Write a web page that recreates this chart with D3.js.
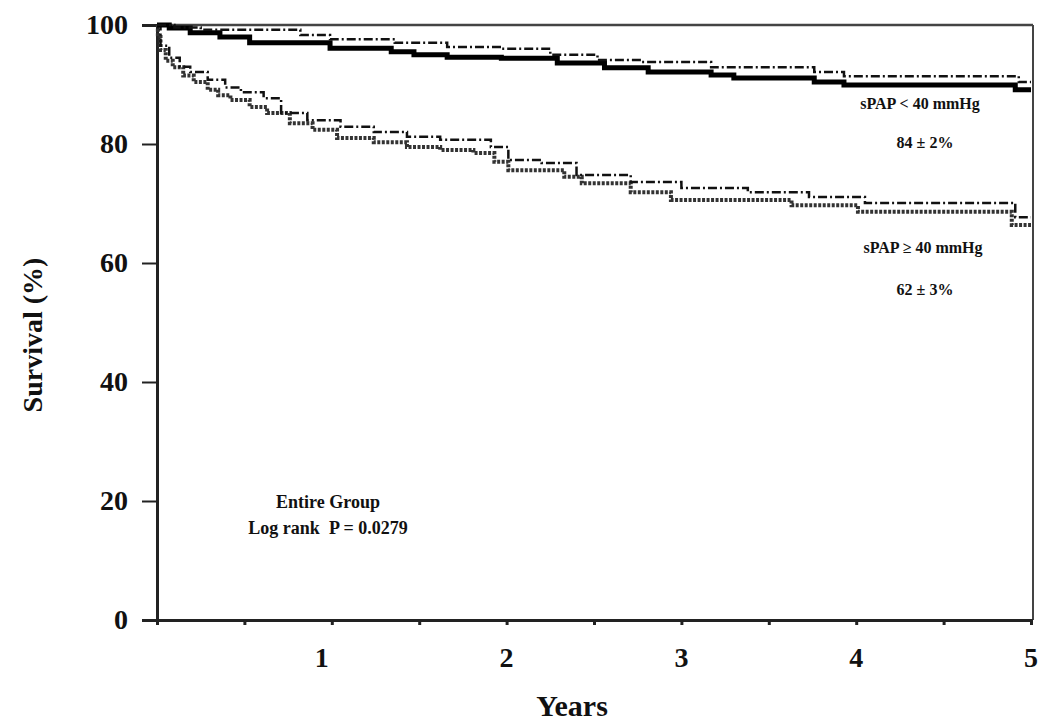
<!DOCTYPE html>
<html>
<head>
<meta charset="utf-8">
<script src="https://cdn.jsdelivr.net/npm/d3@7"></script>
<style>
  body { margin: 0; background: #fff; }
  svg text { font-family: "Liberation Serif", "Times New Roman", serif; font-weight: bold; fill: #111; }
</style>
</head>
<body>
<div id="chart"></div>
<script>
// KAPLAN-MEIER STEPS (years, survival %)
const lowTime = [0, 0.07, 0.19, 0.36, 0.53, 0.99, 1.34, 1.47, 1.66, 1.97, 2.29, 2.56, 2.81, 3.17, 3.30, 3.76, 3.93, 4.91, 5];
const lowSurv = [100, 99.5, 98.7, 98.0, 97.0, 96.1, 95.5, 95.0, 94.6, 94.4, 93.6, 92.8, 92.1, 91.6, 91.1, 90.4, 89.9, 89.1, 89.1];

const lowAltTime = [0, 0.10, 0.25, 0.82, 0.99, 1.36, 1.66, 1.97, 2.25, 2.52, 2.77, 3.17, 3.76, 3.93, 4.93, 5];
const lowAltSurv = [100, 99.6, 99.2, 98.3, 97.6, 97.0, 96.3, 96.0, 95.0, 94.1, 93.8, 92.9, 92.1, 91.4, 90.4, 90.4];

const highTime = [0, 0.005, 0.02, 0.05, 0.09, 0.15, 0.21, 0.29, 0.35, 0.42, 0.53, 0.63, 0.76, 0.89, 1.03, 1.24, 1.43, 1.62, 1.81, 1.93, 2.01, 2.33, 2.43, 2.71, 2.94, 3.63, 4.01, 4.89, 5];
const highSurv = [100, 98, 95.8, 94.0, 92.9, 91.5, 90.4, 89.1, 88.2, 87.4, 86.2, 85.2, 83.5, 82.4, 81.0, 80.3, 79.5, 79.0, 78.5, 77.0, 75.6, 74.5, 73.4, 71.9, 70.6, 69.7, 68.6, 66.4, 66.4];

const highAltTime = [0, 0.02, 0.07, 0.13, 0.19, 0.29, 0.39, 0.48, 0.61, 0.71, 0.86, 1.05, 1.24, 1.43, 1.62, 1.91, 2.01, 2.20, 2.40, 2.71, 3.00, 3.38, 3.73, 4.05, 4.91, 5];
const highAltSurv = [100, 96.5, 94.5, 93.0, 92.1, 90.8, 89.5, 88.7, 87.7, 85.2, 84.0, 82.9, 82.0, 81.2, 80.7, 79.5, 77.3, 76.8, 74.8, 73.6, 72.6, 71.9, 71.1, 70.1, 67.7, 67.7];

// AXIS TICKS
const xTicks = [0, 0.5, 1, 1.5, 2, 2.5, 3, 3.5, 4, 4.5, 5];
const xTickLabels = [1, 2, 3, 4, 5];
const yTicks = [0, 20, 40, 60, 80, 100];

// SVG SIZE
const w = 1038;
const h = 721;
const padL = 157, padR = 1031, padT = 25, padB = 620;

const svg = d3.select("#chart").append("svg").attr("width", w).attr("height", h);

const x = d3.scaleLinear().domain([0, 5]).range([padL, padR]);
const y = d3.scaleLinear().domain([0, 100]).range([padB, padT]);

// FRAME (top + right)
svg.append("line").attr("x1", padL).attr("x2", padR + 2).attr("y1", padT).attr("y2", padT)
  .attr("stroke", "#444").attr("stroke-width", 2.5);
svg.append("line").attr("x1", padR + 2).attr("x2", padR + 2).attr("y1", padT).attr("y2", padB)
  .attr("stroke", "#444").attr("stroke-width", 2);

// AXES
const xAxis = d3.axisBottom(x).tickValues(xTicks).tickSize(5).tickFormat("");
const gx = svg.append("g").attr("transform", "translate(0," + padB + ")").call(xAxis);
gx.select(".domain").attr("stroke", "#222").attr("stroke-width", 3);
gx.selectAll(".tick line").attr("stroke", "#222").attr("stroke-width", 3);

svg.selectAll(".xlab").data(xTickLabels).enter().append("text")
  .attr("class", "xlab")
  .attr("x", (d) => x(d) - (d === 1 ? 10 : 0))
  .attr("y", 667)
  .attr("text-anchor", "middle")
  .style("font-size", "28px")
  .text((d) => d);

const yAxis = d3.axisLeft(y).tickValues(yTicks).tickSize(15).tickPadding(14);
const gy = svg.append("g").attr("transform", "translate(" + padL + ",0)").call(yAxis);
gy.select(".domain").attr("stroke", "#222").attr("stroke-width", 3);
gy.selectAll(".tick line").attr("stroke", "#222").attr("stroke-width", 2);
gy.selectAll(".tick text")
  .style("font-size", "28px")
  .style("font-family", '"Liberation Serif", "Times New Roman", serif')
  .style("font-weight", "bold")
  .attr("fill", "#111");

// AXIS TITLES
svg.append("text").attr("transform", "translate(42,335) rotate(-90)")
  .attr("text-anchor", "middle").style("font-size", "28px").text("Survival (%)");
svg.append("text").attr("x", 572).attr("y", 716)
  .attr("text-anchor", "middle").style("font-size", "30px").text("Years");

// CURVES
const line = d3.line().x((d) => x(d[0])).y((d) => y(d[1])).curve(d3.curveStepAfter);
const zip = (t, s) => t.map((d, i) => [d, s[i]]);

svg.append("path").datum(zip(highTime, highSurv)).attr("d", line)
  .attr("fill", "none").attr("stroke", "#333").attr("stroke-width", 4)
  .attr("stroke-dasharray", "3,1.5");
svg.append("path").datum(zip(highAltTime, highAltSurv)).attr("d", line)
  .attr("fill", "none").attr("stroke", "#111").attr("stroke-width", 2.5)
  .attr("stroke-dasharray", "9,3,2,3");
svg.append("path").datum(zip(lowTime, lowSurv)).attr("d", line)
  .attr("fill", "none").attr("stroke", "#000").attr("stroke-width", 5);
svg.append("path").datum(zip(lowAltTime, lowAltSurv)).attr("d", line)
  .attr("fill", "none").attr("stroke", "#111").attr("stroke-width", 2.5)
  .attr("stroke-dasharray", "9,3,2,3");

// ANNOTATIONS
const notes = [
  ["sPAP < 40 mmHg", 920, 109, 16],
  ["84 \u00b1 2%", 925, 148, 16],
  ["sPAP \u2265 40 mmHg", 923, 253, 16],
  ["62 \u00b1 3%", 925, 295, 16],
  ["Entire Group", 328, 508, 18],
  ["Log rank  P = 0.0279", 328, 534, 18]
];
svg.selectAll(".note").data(notes).enter().append("text")
  .attr("class", "note")
  .attr("x", (d) => d[1]).attr("y", (d) => d[2])
  .attr("text-anchor", "middle")
  .style("font-size", (d) => d[3] + "px")
  .style("white-space", "pre")
  .text((d) => d[0]);
</script>
</body>
</html>
